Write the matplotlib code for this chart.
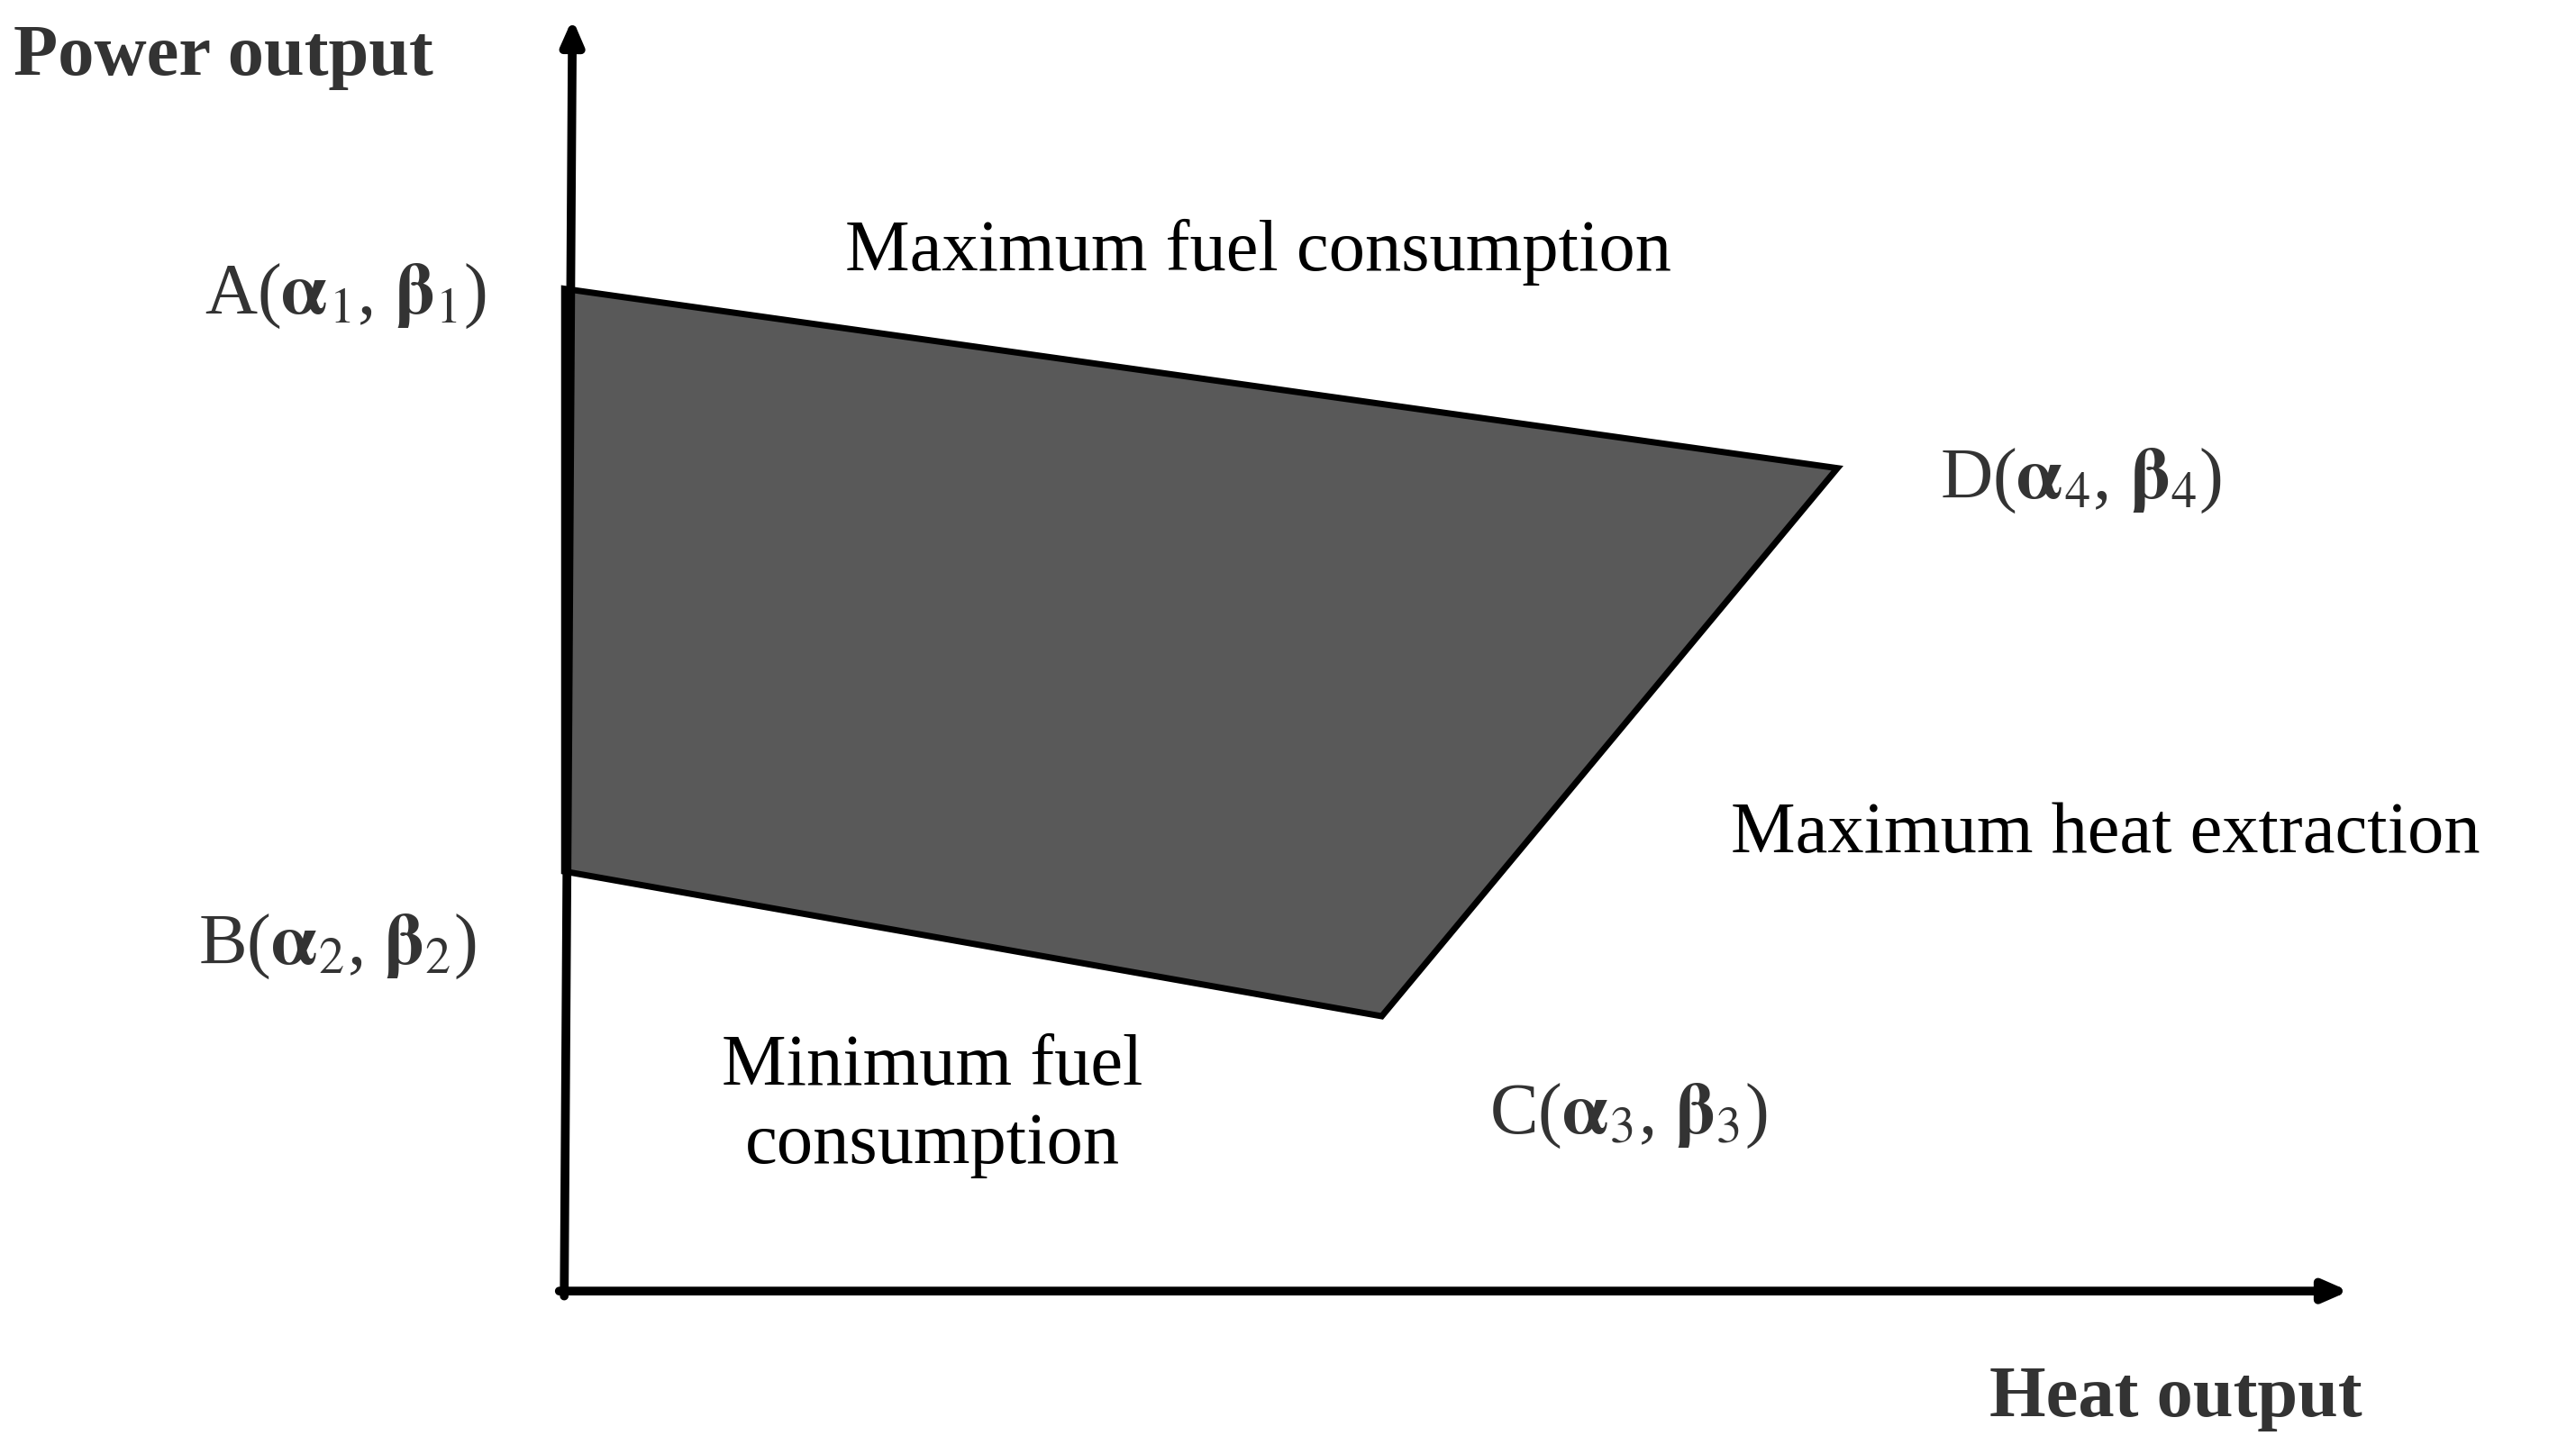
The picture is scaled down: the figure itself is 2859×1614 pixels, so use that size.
import matplotlib
matplotlib.use("Agg")
import matplotlib.pyplot as plt
from matplotlib.patches import Polygon

# region vertices (heat, power) in drawing units (y downward)
point_names = ["A", "D", "C", "B"]
heat = [343, 1117, 840, 343]
power = [176, 285, 618, 530]
point_labels = [r"A($\mathbf{\alpha}_1$, $\mathbf{\beta}_1$)",
                r"D($\mathbf{\alpha}_4$, $\mathbf{\beta}_4$)",
                r"C($\mathbf{\alpha}_3$, $\mathbf{\beta}_3$)",
                r"B($\mathbf{\alpha}_2$, $\mathbf{\beta}_2$)"]
edge_labels = ["Maximum fuel consumption", "Maximum heat extraction",
               "Minimum fuel\nconsumption"]
x_label = "Heat output"
y_label = "Power output"

plt.rcParams['font.family'] = ['Liberation Serif', 'DejaVu Serif']
plt.rcParams['mathtext.fontset'] = 'stix'

fig = plt.figure(figsize=(28.59, 16.15), dpi=100)
ax = fig.add_axes([0, 0, 1, 1])
ax.set_xlim(0, 1566)
ax.set_ylim(884, 0)
ax.axis('off')

poly = Polygon(list(zip(heat, power)), closed=True, facecolor='#595959',
               edgecolor='black', linewidth=5)
ax.add_patch(poly)

# axes arrows
ax.annotate('', xy=(1428, 785), xytext=(340, 785),
            arrowprops=dict(arrowstyle='-|>,head_length=1.6,head_width=0.7',
                            lw=7, color='black', shrinkA=0, shrinkB=0))
ax.annotate('', xy=(348, 12), xytext=(343, 788),
            arrowprops=dict(arrowstyle='-|>,head_length=1.6,head_width=0.7',
                            lw=7, color='black', shrinkA=0, shrinkB=0))

fs = 58
ax.text(8, 35, y_label, fontsize=fs, fontweight='bold', color='#333333',
        ha='left', va='center')
ax.text(1436, 850, x_label, fontsize=fs, fontweight='bold', color='#333333',
        ha='right', va='center')

lab_pos = [(210, 180), (1265, 292), (990, 678), (205, 575)]
for (x, y), t in zip(lab_pos, point_labels):
    ax.text(x, y, t, fontsize=fs, color='#333333', ha='center', va='center')

ax.text(765, 153, edge_labels[0], fontsize=fs, ha='center', va='center')
ax.text(1280, 507, edge_labels[1], fontsize=fs, ha='center', va='center')
ax.text(567, 672, edge_labels[2], fontsize=fs, ha='center', va='center',
        linespacing=1.25)

fig.savefig('out.png', dpi=100)
